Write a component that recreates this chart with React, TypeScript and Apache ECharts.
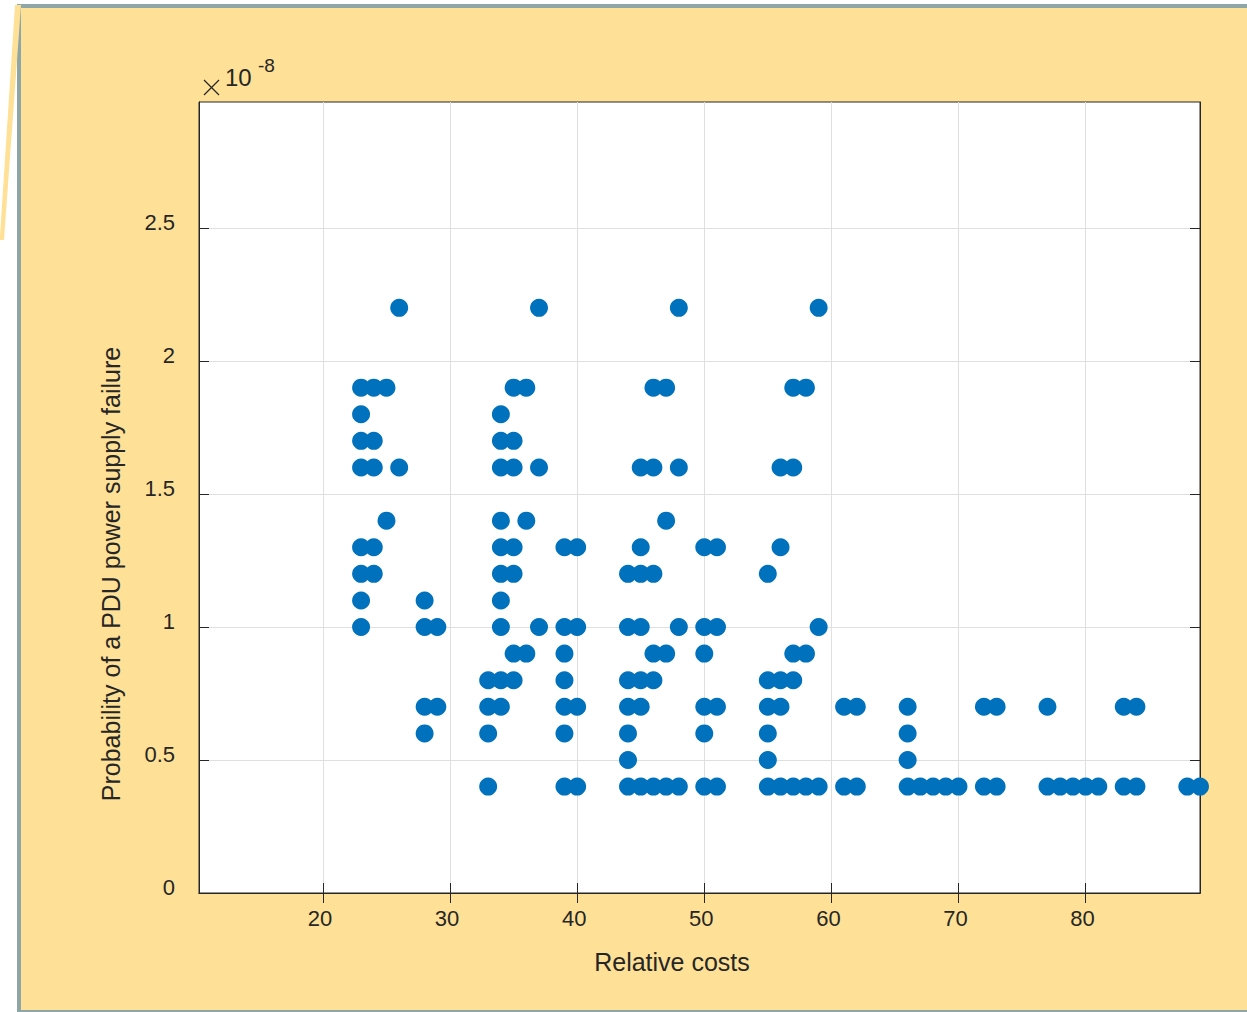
import React, { useEffect, useRef } from "react";
import * as echarts from "echarts";

// Relative costs (x) and, for each, the probabilities (in units of 1e-8) observed
const costs = [23, 24, 25, 26, 28, 29, 33, 34, 35, 36, 37, 39, 40, 44, 45, 46, 47, 48, 50, 51, 55, 56, 57, 58, 59, 61, 62, 66, 67, 68, 69, 70, 72, 73, 77, 78, 79, 80, 81, 83, 84, 88, 89];
const probabilities: number[][] = [
  [1.0, 1.1, 1.2, 1.3, 1.6, 1.7, 1.8, 1.9], // 23
  [1.2, 1.3, 1.6, 1.7, 1.9], // 24
  [1.4, 1.9], // 25
  [1.6, 2.2], // 26
  [0.6, 0.7, 1.0, 1.1], // 28
  [0.7, 1.0], // 29
  [0.4, 0.6, 0.7, 0.8], // 33
  [0.7, 0.8, 1.0, 1.1, 1.2, 1.3, 1.4, 1.6, 1.7, 1.8], // 34
  [0.8, 0.9, 1.2, 1.3, 1.6, 1.7, 1.9], // 35
  [0.9, 1.4, 1.9], // 36
  [1.0, 1.6, 2.2], // 37
  [0.4, 0.6, 0.7, 0.8, 0.9, 1.0, 1.3], // 39
  [0.4, 0.7, 1.0, 1.3], // 40
  [0.4, 0.5, 0.6, 0.7, 0.8, 1.0, 1.2], // 44
  [0.4, 0.7, 0.8, 1.0, 1.2, 1.3, 1.6], // 45
  [0.4, 0.8, 0.9, 1.2, 1.6, 1.9], // 46
  [0.4, 0.9, 1.4, 1.9], // 47
  [0.4, 1.0, 1.6, 2.2], // 48
  [0.4, 0.6, 0.7, 0.9, 1.0, 1.3], // 50
  [0.4, 0.7, 1.0, 1.3], // 51
  [0.4, 0.5, 0.6, 0.7, 0.8, 1.2], // 55
  [0.4, 0.7, 0.8, 1.3, 1.6], // 56
  [0.4, 0.8, 0.9, 1.6, 1.9], // 57
  [0.4, 0.9, 1.9], // 58
  [0.4, 1.0, 2.2], // 59
  [0.4, 0.7], // 61
  [0.4, 0.7], // 62
  [0.4, 0.5, 0.6, 0.7], // 66
  [0.4], // 67
  [0.4], // 68
  [0.4], // 69
  [0.4], // 70
  [0.4, 0.7], // 72
  [0.4, 0.7], // 73
  [0.4, 0.7], // 77
  [0.4], // 78
  [0.4], // 79
  [0.4], // 80
  [0.4], // 81
  [0.4, 0.7], // 83
  [0.4, 0.7], // 84
  [0.4], // 88
  [0.4], // 89
];

const xTicks = [20, 30, 40, 50, 60, 70, 80];
const yTicks = [0, 0.5, 1, 1.5, 2, 2.5];
const xRange = [10.25, 89];
const yRange = [0, 2.974];

const xTitle = "Relative costs";
const yTitle = "Probability of a PDU power supply failure";
const exponentBase = "10";
const exponentPower = "-8";

export default function App() {
  const ref = useRef<HTMLDivElement>(null);

  useEffect(() => {
    document.body.style.margin = "0";
    if (!ref.current) return;
    const chart = echarts.init(ref.current, null, { renderer: "svg" });

    const points: number[][] = [];
    costs.forEach((c, i) => {
      probabilities[i].forEach((p) => points.push([c, p]));
    });

    const ink = "#262626";
    const gridColor = "#dfdfdf";
    const font = "Liberation Sans, Arial, Helvetica, sans-serif";
    const gray = "#8fa6a8";
    const yellow = "#fee196";

    const baseX = {
      type: "value",
      min: xRange[0],
      max: xRange[1],
      axisLine: { show: true, lineStyle: { color: ink, width: 1 } },
      axisTick: { show: true, inside: true, length: 10, customValues: xTicks, lineStyle: { color: ink } },
    };
    const baseY = {
      type: "value",
      min: yRange[0],
      max: yRange[1],
      axisLine: { show: true, lineStyle: { color: ink, width: 1 } },
      axisTick: { show: true, inside: true, length: 10, customValues: yTicks, lineStyle: { color: ink } },
    };

    chart.setOption({
      animation: false,
      backgroundColor: "#ffffff",
      grid: {
        left: 199,
        right: 47,
        top: 102,
        bottom: 119,
        show: true,
        backgroundColor: "#ffffff",
        borderColor: ink,
        borderWidth: 1,
      },
      xAxis: [
        {
          ...baseX,
          position: "bottom",
          axisLabel: {
            show: true,
            customValues: xTicks,
            color: ink,
            fontSize: 22,
            fontFamily: font,
            margin: 14,
            padding: [0, 6, 0, 0],
          },
          splitLine: { show: true, lineStyle: { color: gridColor, width: 1 } },
        },
        {
          ...baseX,
          position: "top",
          axisLabel: { show: false },
          splitLine: { show: false },
        },
      ],
      yAxis: [
        {
          ...baseY,
          position: "left",
          axisLabel: {
            show: true,
            customValues: yTicks,
            color: ink,
            fontSize: 22,
            fontFamily: font,
            margin: 24,
            verticalAlign: "bottom",
            lineHeight: 11,
          },
          splitLine: { show: true, lineStyle: { color: gridColor, width: 1 } },
        },
        {
          ...baseY,
          position: "right",
          axisLabel: { show: false },
          splitLine: { show: false },
        },
      ],
      series: [
        {
          type: "scatter",
          xAxisIndex: 0,
          yAxisIndex: 0,
          data: points,
          symbol: "circle",
          symbolSize: 18,
          itemStyle: { color: "#0072bd", opacity: 1 },
          z: 5,
        },
      ],
      graphic: [
        // yellow page background with grey frame
        { type: "rect", z: -10, silent: true, shape: { x: 17, y: 4, width: 1230, height: 1008 }, style: { fill: gray } },
        { type: "rect", z: -9, silent: true, shape: { x: 21, y: 8, width: 1226, height: 1002 }, style: { fill: yellow } },
        { type: "polygon", z: -9, silent: true, shape: { points: [[15, 5], [21, 5], [4, 240], [0, 240], [0, 236]] }, style: { fill: yellow } },
        // exponent marker
        { type: "line", shape: { x1: 204, y1: 80, x2: 219, y2: 95 }, style: { stroke: ink, lineWidth: 1.3 } },
        { type: "line", shape: { x1: 204, y1: 95, x2: 219, y2: 80 }, style: { stroke: ink, lineWidth: 1.3 } },
        {
          type: "text",
          x: 225,
          y: 77,
          style: { text: exponentBase, fill: ink, font: `24px ${font}`, textAlign: "left", textVerticalAlign: "middle" },
        },
        {
          type: "text",
          x: 258,
          y: 65,
          style: { text: exponentPower, fill: ink, font: `19px ${font}`, textAlign: "left", textVerticalAlign: "middle" },
        },
        // axis titles
        {
          type: "text",
          x: 672,
          y: 962,
          style: { text: xTitle, fill: ink, font: `25px ${font}`, textAlign: "center", textVerticalAlign: "middle" },
        },
        {
          type: "text",
          x: 111,
          y: 574,
          rotation: Math.PI / 2,
          style: { text: yTitle, fill: ink, font: `25px ${font}`, textAlign: "center", textVerticalAlign: "middle" },
        },
      ],
    });

    return () => chart.dispose();
  }, []);

  return <div ref={ref} style={{ width: 1247, height: 1012 }} />;
}
